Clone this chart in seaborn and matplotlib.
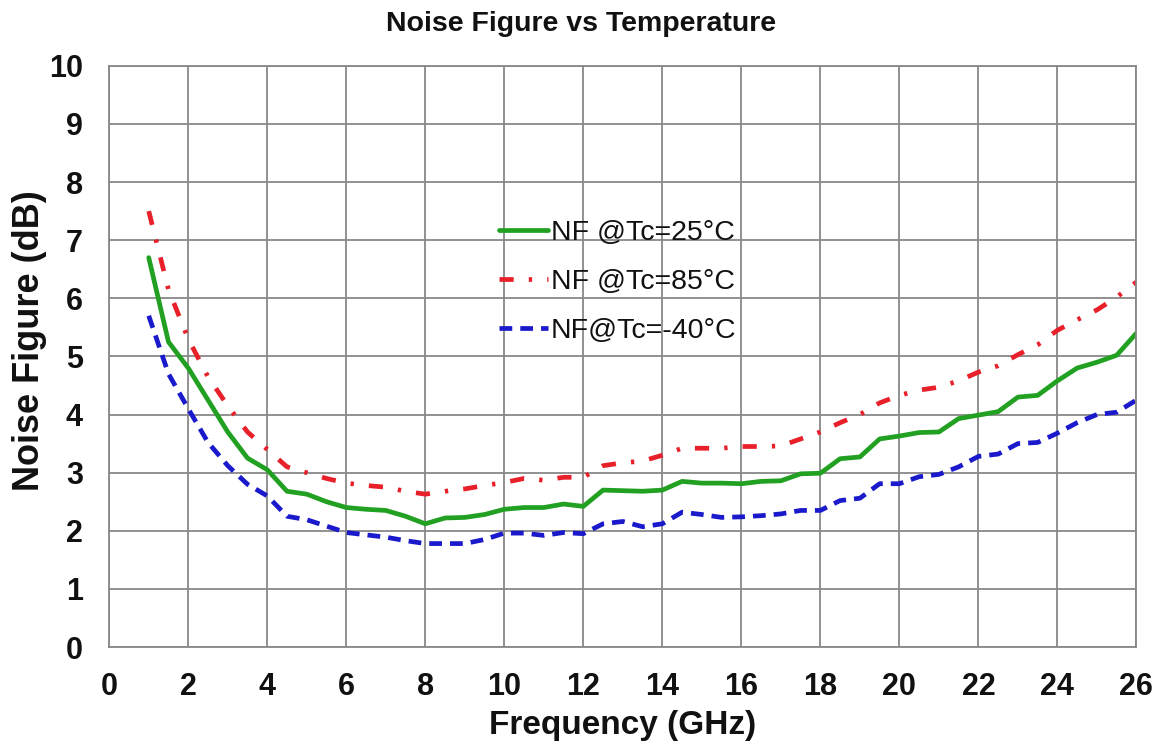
import numpy as np
import pandas as pd
import matplotlib
matplotlib.use("Agg")
import matplotlib.pyplot as plt
import seaborn as sns

# frecuencia en GHz (cada 0.5 GHz)
freq = [1.0, 1.5, 2.0, 2.5, 3.0, 3.5, 4.0, 4.5, 5.0, 5.5, 6.0, 6.5, 7.0, 7.5, 8.0, 8.5,
        9.0, 9.5, 10.0, 10.5, 11.0, 11.5, 12.0, 12.5, 13.0, 13.5, 14.0, 14.5, 15.0, 15.5,
        16.0, 16.5, 17.0, 17.5, 18.0, 18.5, 19.0, 19.5, 20.0, 20.5, 21.0, 21.5, 22.0, 22.5,
        23.0, 23.5, 24.0, 24.5, 25.0, 25.5, 26.0]

nf_25 = [6.70, 5.25, 4.80, 4.25, 3.70, 3.25, 3.05, 2.68, 2.63, 2.50, 2.40, 2.37, 2.35, 2.25,
         2.12, 2.22, 2.23, 2.28, 2.37, 2.40, 2.40, 2.46, 2.42, 2.70, 2.69, 2.68, 2.70, 2.85,
         2.82, 2.82, 2.81, 2.85, 2.86, 2.98, 2.99, 3.24, 3.27, 3.58, 3.63, 3.69, 3.70, 3.93,
         3.99, 4.05, 4.30, 4.33, 4.58, 4.80, 4.90, 5.02, 5.40]

nf_85 = [7.50, 6.15, 5.30, 4.65, 4.15, 3.70, 3.40, 3.10, 3.00, 2.90, 2.82, 2.78, 2.75, 2.68,
         2.63, 2.68, 2.72, 2.78, 2.83, 2.90, 2.87, 2.92, 2.92, 3.12, 3.17, 3.20, 3.30, 3.42,
         3.42, 3.42, 3.45, 3.45, 3.46, 3.58, 3.70, 3.86, 4.00, 4.20, 4.33, 4.42, 4.47, 4.58,
         4.73, 4.84, 5.03, 5.20, 5.45, 5.63, 5.80, 6.02, 6.28]

nf_m40 = [5.70, 4.70, 4.10, 3.52, 3.12, 2.80, 2.60, 2.25, 2.19, 2.08, 1.97, 1.93, 1.89, 1.83,
          1.78, 1.78, 1.78, 1.85, 1.96, 1.96, 1.92, 1.97, 1.95, 2.12, 2.16, 2.07, 2.12, 2.32,
          2.28, 2.23, 2.24, 2.26, 2.29, 2.35, 2.35, 2.52, 2.56, 2.81, 2.81, 2.93, 2.97, 3.10,
          3.28, 3.32, 3.50, 3.52, 3.68, 3.86, 4.00, 4.04, 4.25]

labels = ["NF @Tc=25°C", "NF @Tc=85°C", "NF@Tc=-40°C"]

df = pd.DataFrame({"freq": freq, "nf25": nf_25, "nf85": nf_85, "nfm40": nf_m40})

sns.set_style("white")
plt.rcParams["font.family"] = ["Liberation Sans", "DejaVu Sans"]
plt.rcParams["text.color"] = "#111111"
plt.rcParams["axes.labelcolor"] = "#111111"
plt.rcParams["xtick.color"] = "#111111"
plt.rcParams["ytick.color"] = "#111111"

fig, ax = plt.subplots(figsize=(11.62, 7.48), dpi=100)
fig.subplots_adjust(left=0.094, right=0.978, bottom=0.135, top=0.912)

sns.lineplot(data=df, x="freq", y="nf25", ax=ax, color="#21a021", lw=3.4,
             label=labels[0])
sns.lineplot(data=df, x="freq", y="nf85", ax=ax, color="#e8202a", lw=3.4,
             dashes=(3.0, 3.2, 0.7, 3.2), label=labels[1])
sns.lineplot(data=df, x="freq", y="nfm40", ax=ax, color="#1a1acc", lw=3.4,
             dashes=(2.7, 1.7), label=labels[2])

ax.set_xlim(0, 26)
ax.set_ylim(0, 10)
ax.set_xticks(np.arange(0, 27, 2))
ax.set_yticks(np.arange(0, 11, 1))
ax.grid(True, color="#888888", lw=1.3)
for s in ax.spines.values():
    s.set_color("#888888")
    s.set_linewidth(1.3)
ax.tick_params(axis="both", direction="out", length=7, width=1.3, labelsize=22)
ax.tick_params(axis="x", pad=11, color="#888888")
ax.tick_params(axis="y", pad=12, color="#888888")
for t in ax.get_xticklabels() + ax.get_yticklabels():
    t.set_fontweight("bold")

ax.set_xlabel("Frequency (GHz)", fontsize=24, fontweight="bold", labelpad=6)
ax.set_ylabel("Noise Figure (dB)", fontsize=26, fontweight="bold", va="center")
ax.yaxis.set_label_coords(-0.078, 0.527)
fig.suptitle("Noise Figure vs Temperature", fontsize=20.5, fontweight="bold",
             x=0.5, y=0.985)

ax.legend(loc="center", bbox_to_anchor=(0.495, 0.628), frameon=False, fontsize=20.5,
          handlelength=1.7, handletextpad=0.1, labelspacing=0.8)

plt.savefig("out.png", dpi=100)
